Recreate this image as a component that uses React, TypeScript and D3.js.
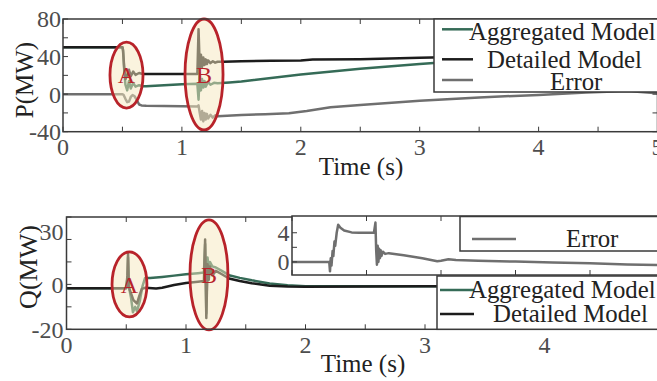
import React from 'react'
import * as d3 from 'd3'

const FONT = '"Liberation Serif", "Times New Roman", serif'
const AXIS = '#3a3a3a'
const TICK_TXT = '#4d4d4d'
const C_AGG = '#356b57'
const C_DET = '#1c1c1c'
const C_ERR = '#6f6f6f'
const C_RED = '#b8232a'

// shared time axis (s)
const xTickVals = [0, 0.5, 1, 1.5, 2, 2.5, 3, 3.5, 4, 4.5, 5]
const xTickLabels = [0, 1, 2, 3, 4, 5]

// ---- P panel (MW)
const pYTicks = [-40, -20, 0, 20, 40, 60, 80]
const pYLabels = [-40, 0, 40, 80]

const pDetT = [0, 0.5, 0.505, 0.515, 0.525, 0.54, 0.555, 0.57, 0.59, 0.61, 0.64, 0.67, 1.0, 1.13, 1.14, 1.15, 1.16, 1.17, 1.18, 1.19, 1.2, 1.21, 1.22, 1.24, 1.26, 1.28, 1.3, 1.35, 1.5, 1.75, 2.0, 2.1, 2.5, 3.0, 3.5, 4.0, 4.5, 5.0]
const pDetV = [50, 50, 47, 28, 16, 20, 26, 19, 24, 20.5, 22.5, 21.5, 21.5, 21.5, 69, 28, 42, 29, 39, 31, 37, 32, 36, 33, 35, 33.5, 34.5, 34.5, 35, 35.5, 35.8, 36.8, 37.2, 38.8, 40, 41, 42, 43]

const pAggT = [0, 0.5, 0.505, 0.515, 0.525, 0.54, 0.555, 0.57, 0.59, 0.61, 0.64, 0.67, 0.7, 1.0, 1.13, 1.14, 1.15, 1.16, 1.17, 1.18, 1.19, 1.2, 1.22, 1.24, 1.27, 1.3, 1.4, 1.5, 2.0, 2.5, 3.0, 3.5, 4.0, 4.5, 5.0]
const pAggV = [50, 50, 46, 25, 10, 4, 14, 6, 12, 8, 9.5, 8.5, 8.5, 10.5, 11, -6, 22, 4, 16, 7, 14, 8, 13, 10, 12, 11.5, 12.5, 13.5, 21, 27, 32, 36.5, 40.5, 43, 44]

const pErrT = [0, 0.5, 0.51, 0.525, 0.54, 0.555, 0.57, 0.585, 0.6, 0.62, 0.64, 0.66, 0.7, 1.0, 1.13, 1.14, 1.15, 1.16, 1.17, 1.18, 1.19, 1.2, 1.21, 1.22, 1.24, 1.26, 1.28, 1.3, 1.5, 1.7, 1.9, 2.05, 2.25, 2.5, 3.0, 3.5, 4.0, 4.4, 4.75, 5.0]
const pErrV = [0, 0, -1, -5, -8.5, -8, -3, -1, -2, -6, -11, -12, -12.3, -12.8, -13.2, -12, -20, -27, -18, -29, -20, -27, -21, -26, -22, -25, -22.5, -23.5, -22.2, -21.3, -20.3, -18, -14, -11.5, -7, -3.5, -0.8, 1.8, 3.4, 0.8]

// ---- Q panel
const qYTicks = [-20, -10, 0, 10, 20, 30]
const qYLabels = [-20, 0, 30]

const qDetT = [0, 0.5, 0.51, 0.515, 0.52, 0.54, 0.56, 0.59, 0.61, 0.63, 0.66, 0.75, 0.8, 0.9, 1.0, 1.1, 1.15, 1.16, 1.17, 1.18, 1.19, 1.2, 1.22, 1.25, 1.3, 1.36, 1.45, 1.55, 1.7, 1.85, 2.0, 3.0, 5.0]
const qDetV = [-1.7, -1.7, 4, 14, -1, -4, -7, -8.5, -5, -2, -1.5, -1.8, -1.5, -0.3, 0.6, 1.2, 1.5, 20, -15, 9, 2, 8, 4, 6, 4.5, 2.6, 1.5, 0.5, -0.6, -0.9, -1, -0.8, -0.8]

const qAggT = [0, 0.5, 0.51, 0.515, 0.525, 0.54, 0.556, 0.575, 0.59, 0.615, 0.635, 0.657, 0.7, 0.8, 0.9, 1.0, 1.1, 1.15, 1.16, 1.17, 1.18, 1.19, 1.2, 1.22, 1.25, 1.3, 1.36, 1.45, 1.55, 1.7, 1.85, 2.0, 3.0, 5.0]
const qAggV = [-1.7, -1.7, 3, 12, -2, -6, -12.4, -10, -12, -7, -1, 2.8, 2.8, 3.3, 3.9, 4.5, 5, 5.3, 18, -13, 12, 7, 10, 8, 7.5, 6, 4.1, 2.9, 1.8, 0.4, -0.4, -0.8, -0.8, -0.8]

// ---- inset: Q error
const inYTicks = [0, 2, 4]
const inYLabels = [0, 4]
const inXTicks = [0, 1, 2, 3, 4, 5]
const inErrT = [0, 0.5, 0.51, 0.52, 0.53, 0.545, 0.555, 0.57, 0.58, 0.6, 0.62, 0.65, 0.7, 0.8, 0.9, 1.0, 1.1, 1.12, 1.13, 1.14, 1.15, 1.16, 1.17, 1.18, 1.19, 1.2, 1.22, 1.25, 1.3, 1.5, 1.75, 1.95, 2.0, 2.1, 2.2, 2.5, 3.0, 3.5, 4.0, 4.5, 5.0]
const inErrV = [0, 0, -1.3, 0.5, -0.5, 1.5, 0.8, 2.8, 2.2, 4, 5.1, 4.7, 4.3, 4.05, 4, 4, 4, 5.4, 1.6, -0.4, 2.2, 0, 1.8, 0.5, 1.6, 0.8, 1.4, 1.1, 1.2, 0.9, 0.5, 0.1, 0.15, 0.35, 0.25, 0.15, 0.05, -0.1, -0.2, -0.35, -0.45]

// highlighted fault events (centre and half-axes in data units)
const pMarks = [
  { label: 'A', t: 0.534, v: 20.3, rt: 0.139, rv: 35.1 },
  { label: 'B', t: 1.186, v: 20.9, rt: 0.16, rv: 59.1 },
]
const qMarks = [
  { label: 'A', t: 0.527, v: 0, rt: 0.146, rv: 14.5 },
  { label: 'B', t: 1.192, v: 4.2, rt: 0.159, rv: 24.5 },
]

type S = d3.ScaleLinear<number, number>

const path = (x: S, y: S, t: number[], v: number[]) =>
  d3.line<number>().x((_, i) => x(t[i])).y((d) => y(d))(v) || ''

function Frame({ x, y, xt, yt }: { x: S; y: S; xt: number[]; yt: number[] }) {
  const [x0, x1] = x.range()
  const [y0, y1] = y.range()
  return (
    <g stroke={AXIS}>
      {xt.map((t) => (
        <g key={'x' + t} strokeWidth={1}>
          <line x1={x(t)} x2={x(t)} y1={y0} y2={y0 - 5} />
          <line x1={x(t)} x2={x(t)} y1={y1} y2={y1 + 5} />
        </g>
      ))}
      {yt.map((v) => (
        <g key={'y' + v} strokeWidth={1}>
          <line x1={x0} x2={x0 + 5} y1={y(v)} y2={y(v)} />
          <line x1={x1} x2={x1 - 5} y1={y(v)} y2={y(v)} />
        </g>
      ))}
      <rect x={x0} y={y1} width={x1 - x0} height={y0 - y1} fill="none" strokeWidth={1.5} />
    </g>
  )
}

function Marks({ x, y, marks }: { x: S; y: S; marks: typeof pMarks }) {
  return (
    <g>
      {marks.map((m) => (
        <g key={m.label}>
          <ellipse
            cx={x(m.t)}
            cy={y(m.v)}
            rx={x(m.t + m.rt) - x(m.t)}
            ry={y(m.v) - y(m.v + m.rv)}
            fill="#f6e7bd"
            fillOpacity={0.5}
            stroke={C_RED}
            strokeWidth={2.8}
          />
          <text x={x(m.t)} y={y(m.v)} dy="0.35em" textAnchor="middle" fill={C_RED} fontSize={24}>
            {m.label}
          </text>
        </g>
      ))}
    </g>
  )
}

type Item = { label: string; color: string; ly: number; tx: number; ty: number }
function Legend({ box, x1, x2, items }: { box: [number, number, number, number]; x1: number; x2: number; items: Item[] }) {
  return (
    <g>
      <rect x={box[0]} y={box[1]} width={box[2]} height={box[3]} fill="#fff" stroke={AXIS} strokeWidth={1.5} />
      {items.map((it) => (
        <g key={it.label}>
          <line x1={x1} x2={x2} y1={it.ly} y2={it.ly} stroke={it.color} strokeWidth={2.5} />
          <text x={it.tx} y={it.ty} fill="#222" fontSize={24.8}>
            {it.label}
          </text>
        </g>
      ))}
    </g>
  )
}

export default function App() {
  const xP = d3.scaleLinear().domain([0, 5]).range([63, 657.5])
  const yP = d3.scaleLinear().domain([-40, 80]).range([131.7, 19])
  const xQ = d3.scaleLinear().domain([0, 5]).range([66.5, 664])
  const yQ = d3.scaleLinear().domain([-20, 30]).range([329.3, 217])
  const xI = d3.scaleLinear().domain([0, 5]).range([292, 664.5])
  const yI = d3.scaleLinear().domain([-1.8, 6.3]).range([275, 216])

  const lineProps = { fill: 'none', strokeWidth: 2.5, strokeLinejoin: 'round' as const }

  return (
    <svg width={657} height={381} style={{ position: 'absolute', left: 0, top: 0, background: '#fff' }} fontFamily={FONT}>
      <defs>
        <clipPath id="clipP">
          <rect x={63} y={19} width={594.5} height={112.7} />
        </clipPath>
        <clipPath id="clipQ">
          <rect x={66.5} y={217} width={597.5} height={112.3} />
        </clipPath>
        <clipPath id="clipI">
          <rect x={292} y={216} width={372.5} height={59} />
        </clipPath>
      </defs>

      {/* ---------- P panel ---------- */}
      <g clipPath="url(#clipP)">
        <path d={path(xP, yP, pAggT, pAggV)} stroke={C_AGG} {...lineProps} />
        <path d={path(xP, yP, pDetT, pDetV)} stroke={C_DET} {...lineProps} />
        <path d={path(xP, yP, pErrT, pErrV)} stroke={C_ERR} {...lineProps} />
      </g>
      <Marks x={xP} y={yP} marks={pMarks} />
      <Frame x={xP} y={yP} xt={xTickVals} yt={pYTicks} />
      <g fontSize={24} fill={TICK_TXT}>
        {pYLabels.map((v) => (
          <text key={v} x={61} y={yP(v)} dy="0.35em" textAnchor="end">
            {v}
          </text>
        ))}
        {xTickLabels.map((t) => (
          <text key={t} x={xP(t)} y={155} textAnchor="middle">
            {t}
          </text>
        ))}
      </g>
      <text x={361} y={175} textAnchor="middle" fontSize={25} fill="#222">
        Time (s)
      </text>
      <text transform="translate(24,80) rotate(-90)" dy="0.35em" textAnchor="middle" fontSize={25} fill="#222">
        P(MW)
      </text>
      <Legend
        box={[434, 19, 240, 73]}
        x1={442}
        x2={473}
        items={[
          { label: 'Aggregated Model', color: C_AGG, ly: 29.3, tx: 469, ty: 40 },
          { label: 'Detailed Model', color: C_DET, ly: 59.3, tx: 487, ty: 67.5 },
          { label: 'Error', color: C_ERR, ly: 80, tx: 550, ty: 90 },
        ]}
      />

      {/* ---------- Q panel ---------- */}
      <g clipPath="url(#clipQ)">
        <path d={path(xQ, yQ, qAggT, qAggV)} stroke={C_AGG} {...lineProps} />
        <path d={path(xQ, yQ, qDetT, qDetV)} stroke={C_DET} {...lineProps} />
      </g>
      <Marks x={xQ} y={yQ} marks={qMarks} />
      <Frame x={xQ} y={yQ} xt={xTickVals} yt={qYTicks} />
      <g fontSize={24} fill={TICK_TXT}>
        {qYLabels.map((v) => (
          // top label sits a little below its tick, as in the original figure
          <text key={v} x={63.5} y={yQ(v) + (v === 30 ? 15 : 0)} dy="0.35em" textAnchor="end">
            {v}
          </text>
        ))}
        {xTickLabels.map((t) => (
          <text key={t} x={xQ(t)} y={353} textAnchor="middle">
            {t}
          </text>
        ))}
      </g>
      <text x={363} y={372} textAnchor="middle" fontSize={25} fill="#222">
        Time (s)
      </text>
      <text transform="translate(28,267) rotate(-90)" dy="0.35em" textAnchor="middle" fontSize={26} fill="#222">
        Q(MW)
      </text>

      {/* inset: error */}
      <rect x={292} y={216} width={372.5} height={59} fill="#fff" />
      <g clipPath="url(#clipI)">
        <path d={path(xI, yI, inErrT, inErrV)} stroke={C_ERR} {...lineProps} />
      </g>
      <Frame x={xI} y={yI} xt={inXTicks} yt={inYTicks} />
      <g fontSize={24} fill={TICK_TXT}>
        {inYLabels.map((v) => (
          <text key={v} x={289.5} y={yI(v)} dy="0.35em" textAnchor="end">
            {v}
          </text>
        ))}
      </g>
      <Legend
        box={[460, 216.5, 210, 34.5]}
        x1={472}
        x2={516}
        items={[{ label: 'Error', color: C_ERR, ly: 239, tx: 566, ty: 246.7 }]}
      />
      <Legend
        box={[437, 276, 230, 53.3]}
        x1={440}
        x2={474}
        items={[
          { label: 'Aggregated Model', color: C_AGG, ly: 290, tx: 469, ty: 298.3 },
          { label: 'Detailed Model', color: C_DET, ly: 314, tx: 493, ty: 321.7 },
        ]}
      />
    </svg>
  )
}
